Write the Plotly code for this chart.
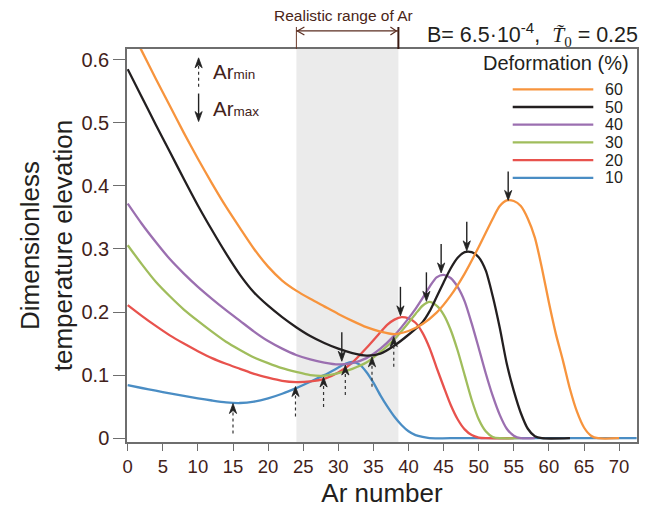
import plotly.graph_objects as go

# ---------------- data ----------------
deformation = ["10", "20", "30", "40", "50", "60"]
line_colors = ["#4a8dc4", "#e8524d", "#a0bd5c", "#9b6fb0", "#231f20", "#f7943d"]

ar_10 = [0, 2, 4, 6, 8, 10, 12, 14, 16, 18, 20, 22, 24, 26, 28, 30, 31, 32, 33, 34, 35, 36, 37, 38,
         39, 40, 41, 42, 43, 46, 72.5]
temp_10 = [0.0840, 0.0796, 0.0753, 0.0711, 0.0671, 0.0633, 0.0598, 0.0568, 0.0558, 0.0580, 0.0632,
           0.0705, 0.0795, 0.0895, 0.100, 0.112, 0.118, 0.121, 0.117, 0.105, 0.088, 0.068, 0.050,
           0.034, 0.021, 0.011, 0.005, 0.002, 0.0, 0.0, 0.0]

ar_20 = [0, 2, 4, 6, 8, 10, 12, 14, 16, 18, 20, 22, 24, 26, 28, 30, 32, 34, 36, 37, 38, 39, 40, 41,
         42, 43, 44, 45, 46, 47, 48, 49, 50, 51, 55]
temp_20 = [0.211, 0.194, 0.178, 0.163, 0.150, 0.138, 0.127, 0.118, 0.110, 0.102, 0.096, 0.091, 0.089,
           0.090, 0.094, 0.104, 0.120, 0.143, 0.168, 0.180, 0.188, 0.192, 0.190, 0.183, 0.167, 0.143,
           0.112, 0.082, 0.053, 0.030, 0.014, 0.005, 0.001, 0.0, 0.0]

ar_30 = [0, 2, 4, 6, 8, 10, 12, 14, 16, 18, 20, 22, 24, 26, 28, 30, 32, 34, 36, 38, 40, 41, 42, 43,
         44, 45, 46, 47, 48, 49, 50, 51, 52, 53, 56]
temp_30 = [0.306, 0.276, 0.248, 0.225, 0.204, 0.186, 0.169, 0.153, 0.140, 0.128, 0.119, 0.111, 0.105,
           0.100, 0.099, 0.103, 0.110, 0.120, 0.137, 0.157, 0.183, 0.197, 0.210, 0.216, 0.210, 0.196,
           0.172, 0.139, 0.100, 0.061, 0.030, 0.011, 0.002, 0.0, 0.0]

ar_40 = [0, 2, 4, 6, 8, 10, 12, 14, 16, 18, 20, 22, 24, 26, 28, 30, 32, 34, 36, 38, 40, 41, 42, 43,
         44, 45, 46, 47, 48, 49, 50, 51, 52, 53, 54, 55, 56, 58]
temp_40 = [0.372, 0.340, 0.311, 0.284, 0.261, 0.240, 0.221, 0.203, 0.186, 0.169, 0.154, 0.142, 0.132,
           0.125, 0.120, 0.117, 0.119, 0.127, 0.142, 0.163, 0.190, 0.205, 0.222, 0.240, 0.255, 0.259,
           0.254, 0.240, 0.217, 0.182, 0.143, 0.103, 0.067, 0.037, 0.015, 0.004, 0.0, 0.0]

ar_50 = [0, 2, 4, 6, 8, 10, 12, 14, 16, 18, 20, 22, 24, 26, 28, 30, 32, 34, 36, 38, 40, 42, 43, 44,
         45, 46, 47, 48, 49, 50, 51, 52, 53, 54, 55, 56, 57, 58, 59, 63]
temp_50 = [0.585, 0.541, 0.497, 0.454, 0.411, 0.369, 0.330, 0.293, 0.259, 0.231, 0.210, 0.192, 0.176,
           0.162, 0.151, 0.142, 0.135, 0.131, 0.134, 0.147, 0.164, 0.184, 0.201, 0.224, 0.247, 0.269,
           0.286, 0.295, 0.295, 0.287, 0.266, 0.225, 0.175, 0.118, 0.075, 0.040, 0.015, 0.003, 0.0, 0.0]

ar_60 = [0, 2, 4, 6, 8, 10, 12, 14, 16, 18, 20, 22, 24, 26, 28, 30, 32, 34, 36, 38, 40, 42, 44, 46,
         48, 50, 52, 53, 54, 55, 56, 57, 58, 59, 60, 61, 62, 63, 64, 65, 66, 67, 70]
temp_60 = [0.658, 0.614, 0.570, 0.527, 0.484, 0.443, 0.404, 0.367, 0.333, 0.300, 0.272, 0.250, 0.234,
           0.221, 0.209, 0.197, 0.186, 0.176, 0.169, 0.165, 0.170, 0.181, 0.199, 0.226, 0.261, 0.303,
           0.348, 0.368, 0.377, 0.376, 0.368, 0.348, 0.318, 0.270, 0.215, 0.165, 0.123, 0.078, 0.042,
           0.017, 0.004, 0.0, 0.0]

series_ar = [ar_10, ar_20, ar_30, ar_40, ar_50, ar_60]
series_temp = [temp_10, temp_20, temp_30, temp_40, temp_50, temp_60]

# Ar_min (dotted, upward) and Ar_max (solid, downward) arrow tips
armin_ar = [15.0, 23.9, 27.9, 31.0, 34.8, 37.9]
armin_temp = [0.055, 0.082, 0.097, 0.116, 0.129, 0.161]
armax_ar = [30.5, 38.85, 42.55, 44.65, 48.3, 54.2]
armax_temp = [0.122, 0.194, 0.217, 0.262, 0.297, 0.377]

realistic_range = [24.03, 38.56]

x_ticks = list(range(0, 75, 5))
y_ticks = [0, 0.1, 0.2, 0.3, 0.4, 0.5, 0.6]
y_ticklabels = ["0", "0.1", "0.2", "0.3", "0.4", "0.5", "0.6"]

legend_title = "Deformation (%)"
legend_order = [5, 4, 3, 2, 1, 0]          # 60 at top ... 10 at bottom
legend_rows_y = [0.8975, 0.8524, 0.8074, 0.7623, 0.7173, 0.6722]

# ---------------- figure ----------------
FONT = "Liberation Sans, Arial, Helvetica, sans-serif"
BROWN = "#42221a"
AXGRAY = "#6e6e6e"
ARROW = "#222222"

HEAD_UP = "M0,0 L-3.6,-10 L0,-7 L3.6,-10 Z"
HEAD_DOWN = "M0,0 L-3.6,10 L0,7 L3.6,10 Z"

fig = go.Figure()

for name, xs, ys, col in zip(deformation, series_ar, series_temp, line_colors):
    fig.add_trace(go.Scatter(
        x=xs, y=ys, mode="lines", name=name, showlegend=False,
        line=dict(color=col, width=2.3, shape="spline", smoothing=0.7),
    ))

# shaded realistic range
fig.add_shape(type="rect", xref="x", yref="paper",
              x0=realistic_range[0], x1=realistic_range[1], y0=0, y1=1,
              fillcolor="#ebebeb", line=dict(width=0), layer="below")

# bracket above the plot
fig.add_shape(type="line", xref="x", yref="paper",
              x0=realistic_range[0], x1=realistic_range[0], y0=1.0, y1=1.056,
              line=dict(color="#6a3a2a", width=1))
fig.add_shape(type="line", xref="x", yref="paper",
              x0=realistic_range[1], x1=realistic_range[1], y0=1.0, y1=1.056,
              line=dict(color="#3a1a12", width=2))
fig.add_shape(type="line", xref="x", yref="paper",
              x0=realistic_range[0], x1=realistic_range[1], y0=1.046, y1=1.046,
              line=dict(color="#5a2d20", width=1.2))
fig.add_shape(type="path", xref="x", yref="paper", xsizemode="pixel", ysizemode="pixel",
              xanchor=realistic_range[0], yanchor=1.046, path="M8,4 L1,0 L8,-4",
              line=dict(color="#5a2d20", width=1.2))
fig.add_shape(type="path", xref="x", yref="paper", xsizemode="pixel", ysizemode="pixel",
              xanchor=realistic_range[1], yanchor=1.046, path="M-8,4 L-2,0 L-8,-4",
              line=dict(color="#5a2d20", width=1.2))
fig.add_annotation(x=sum(realistic_range) / 2 - 0.6, y=1.0865, xref="x", yref="paper",
                   xanchor="center", yanchor="middle",
                   text="Realistic range of Ar", showarrow=False,
                   font=dict(family=FONT, size=15.5, color="#4a2518"))

# parameter text
fig.add_annotation(x=1.006, y=1.037, xref="paper", yref="paper", xanchor="right", yanchor="middle",
                   text="B= 6.5·10<sup>-4</sup>,  <span style='font-family:Liberation Serif'><i>T̃</i>"
                        "<sub>0</sub></span> = 0.25",
                   showarrow=False, font=dict(family=FONT, size=21.5, color="#231f20"))


def up_arrow(xa, ya, shaft=30):
    fig.add_shape(type="line", xref="x", yref="y", ysizemode="pixel",
                  x0=xa, x1=xa, yanchor=ya, y0=-shaft, y1=-6,
                  line=dict(color="#333333", width=1.2, dash="dot"))
    fig.add_shape(type="path", xref="x", yref="y", xsizemode="pixel", ysizemode="pixel",
                  xanchor=xa, yanchor=ya, path=HEAD_UP,
                  fillcolor=ARROW, line=dict(color=ARROW, width=0.8))


def down_arrow(xa, ya, shaft=29):
    fig.add_shape(type="line", xref="x", yref="y", ysizemode="pixel",
                  x0=xa, x1=xa, yanchor=ya, y0=shaft, y1=6,
                  line=dict(color=ARROW, width=1.4))
    fig.add_shape(type="path", xref="x", yref="y", xsizemode="pixel", ysizemode="pixel",
                  xanchor=xa, yanchor=ya, path=HEAD_DOWN,
                  fillcolor=ARROW, line=dict(color=ARROW, width=0.8))


for xa, ya in zip(armin_ar, armin_temp):
    up_arrow(xa, ya)
for xa, ya in zip(armax_ar, armax_temp):
    down_arrow(xa, ya)

# key for arrows
key_x = 10.1
up_arrow(key_x, 0.603, shaft=29)
down_arrow(key_x, 0.502, shaft=28)
fig.add_annotation(x=11.9, y=0.582, xref="x", yref="y", xanchor="left", yanchor="middle",
                   text="Ar<span style='font-size:13.5px'>min</span>", showarrow=False,
                   font=dict(family=FONT, size=20.5, color=BROWN))
fig.add_annotation(x=11.9, y=0.522, xref="x", yref="y", xanchor="left", yanchor="middle",
                   text="Ar<span style='font-size:13.5px'>max</span>", showarrow=False,
                   font=dict(family=FONT, size=20.5, color=BROWN))

# legend (drawn manually to match the long line samples and tight spacing)
fig.add_annotation(x=0.9876, y=0.9644, xref="paper", yref="paper", xanchor="right", yanchor="middle",
                   text=legend_title, showarrow=False,
                   font=dict(family=FONT, size=20, color="#231f20"))
for idx, ly in zip(legend_order, legend_rows_y):
    fig.add_shape(type="line", xref="paper", yref="paper", x0=0.7563, x1=0.9143, y0=ly, y1=ly,
                  line=dict(color=line_colors[idx], width=2.3))
    fig.add_annotation(x=0.935, y=ly, xref="paper", yref="paper", xanchor="left", yanchor="middle",
                       text=deformation[idx], showarrow=False, borderpad=0,
                       font=dict(family=FONT, size=16, color="#231f20"))

fig.update_layout(
    width=634, height=500,
    margin=dict(l=119, r=5, t=41, b=66),
    paper_bgcolor="white", plot_bgcolor="white",
    font=dict(family=FONT, color="#231f20"),
    showlegend=False,
    xaxis=dict(
        range=[-0.1, 72.55], tickmode="array", tickvals=x_ticks,
        ticks="outside", ticklen=7, tickwidth=1.2, tickcolor=AXGRAY,
        showline=True, linecolor=AXGRAY, linewidth=1.5, mirror=True,
        showgrid=False, zeroline=False,
        tickfont=dict(family=FONT, size=18.5, color=BROWN),
        title=dict(text="Ar number", font=dict(family=FONT, size=26, color="#231f20"), standoff=8),
        automargin=False,
    ),
    yaxis=dict(
        range=[-0.006, 0.617], tickmode="array", tickvals=y_ticks, ticktext=y_ticklabels,
        ticks="outside", ticklen=12, tickwidth=1.2, tickcolor=AXGRAY,
        showline=True, linecolor=AXGRAY, linewidth=1.5, mirror=True,
        showgrid=False, zeroline=False,
        tickfont=dict(family=FONT, size=20, color=BROWN),
        title=dict(text="Dimensionless<br>temperature elevation",
                   font=dict(family=FONT, size=26, color="#231f20"), standoff=1),
        automargin=False,
    ),
)

fig.write_html("out.html")
